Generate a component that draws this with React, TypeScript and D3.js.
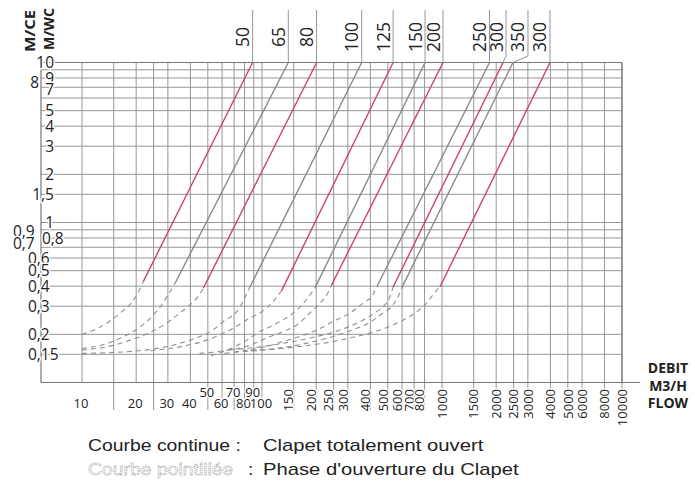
import React from "react";
import * as d3 from "d3";

// ---------- DATA ----------
// Valve sizes (DN) labelled above the curves (last label is "300" in the original)
const diameters = ["50", "65", "80", "100", "125", "150", "200", "250", "300", "350", "300"];
// Flow (m3/h) where each solid curve reaches 10 m head (top border)
const flowAtTop = [88.7, 140, 201, 358, 535, 805, 1013, 1837, 2183, 2479, 3981];
const headAtTop = 10;
// Lower end of each solid curve (valve fully open)
const flowAtBottom = [21.9, 32.9, 47.2, 85.7, 128.5, 196.8, 243.6, 433.5, 535, 597, 975];
const headAtBottom = [0.427, 0.417, 0.388, 0.395, 0.375, 0.39, 0.407, 0.395, 0.395, 0.39, 0.397];
// Dashed parts (valve opening phase), continuing from the lower end leftwards
const dashedFlows = [
  [19.7, 16.3, 12.6, 10],
  [30.0, 27.7, 24.4, 21, 16.9, 14.3, 10],
  [44.1, 39.8, 35, 29.5, 24.4, 18.5, 13.7, 10],
  [72.4, 60.8, 53.4, 39.8, 32, 22.9, 14.8, 10],
  [115, 99.6, 85.7, 66.4, 49.3, 35, 24],
  [173, 152.5, 130.6, 110.7, 93.3, 82.5, 66, 52],
  [229, 214, 184.7, 156, 130.6, 106, 85.7, 62, 45],
  [407, 373, 308, 247, 202, 162.5, 130.6, 106, 85.7, 62],
  [514, 481, 433, 350, 271, 202, 143, 97.4, 66],
  [570, 534, 470, 398, 308, 210, 143, 86],
  [889, 822, 726, 584, 452, 335, 247, 162.5, 106, 70],
];
const dashedHeads = [
  [0.337, 0.272, 0.222, 0.2],
  [0.352, 0.305, 0.258, 0.222, 0.193, 0.178, 0.163],
  [0.344, 0.305, 0.272, 0.235, 0.208, 0.184, 0.167, 0.16],
  [0.277, 0.24, 0.213, 0.184, 0.171, 0.16, 0.154, 0.152],
  [0.32, 0.277, 0.253, 0.213, 0.184, 0.167, 0.158],
  [0.32, 0.277, 0.246, 0.223, 0.203, 0.184, 0.162, 0.147],
  [0.352, 0.32, 0.272, 0.229, 0.208, 0.19, 0.171, 0.158, 0.152],
  [0.344, 0.32, 0.272, 0.24, 0.213, 0.194, 0.18, 0.168, 0.16, 0.152],
  [0.344, 0.305, 0.277, 0.24, 0.213, 0.194, 0.179, 0.167, 0.16],
  [0.344, 0.305, 0.272, 0.238, 0.21, 0.184, 0.168, 0.158],
  [0.352, 0.314, 0.277, 0.24, 0.213, 0.194, 0.18, 0.168, 0.16, 0.155],
];

// Grid and tick values
const xGridValues = [10, 15, 20, 25, 30, 40, 50, 60, 70, 80, 90, 100, 150, 200, 250, 300, 400, 500, 600, 700, 800, 1000, 1500, 2000, 2500, 3000, 4000, 5000, 6000, 8000, 10000];
const xFlatTicks = [10, 20, 30, 40, 50, 60, 70, 80, 90, 100];
const xRotatedTicks = [150, 200, 250, 300, 400, 500, 600, 700, 800, 1000, 1500, 2000, 2500, 3000, 4000, 5000, 6000, 8000, 10000];
const yGridValues = [10, 9, 8, 7, 6, 5, 4, 3, 2, 1.5, 1, 0.9, 0.8, 0.7, 0.6, 0.5, 0.4, 0.3, 0.2, 0.15];
const yTickValues = [10, 9, 8, 7, 5, 4, 3, 2, 1.5, 1, 0.9, 0.8, 0.7, 0.6, 0.5, 0.4, 0.3, 0.2, 0.15];
const yTickLabels = ["10", "9", "8", "7", "5", "4", "3", "2", "1,5", "1", "0,9", "0,8", "0,7", "0,6", "0,5", "0,4", "0,3", "0,2", "0,15"];

const yTitles = ["M/CE", "M/WC"];
const xTitles = ["DEBIT", "M3/H", "FLOW"];
const legendSolidLabel = "Courbe continue";
const legendSolidText = "Clapet totalement ouvert";
const legendDashLabel = "Courbe pointillée";
const legendDashText = "Phase d'ouverture du Clapet";

// ---------- LAYOUT / STYLE ----------
const W = 695;
const H = 486;
const RED = "#cc4468";
const GREYC = "#8a8a8a";
const GRID = "#979797";
const NUM_FONT = "'Open Sans', 'Noto Sans', sans-serif";
const LEG_FONT = "'Liberation Sans', Arial, sans-serif";

function yLabelLayout(lbl: string) {
  if (lbl === "8") return { anchor: "end", x: 39, dy: 4 };
  if (lbl === "9") return { anchor: "end", x: 54, dy: 9 };
  if (lbl === "7") return { anchor: "end", x: 54, dy: 2 };
  if (lbl === "0,9") return { anchor: "start", x: 13, dy: 2 };
  if (lbl === "0,7") return { anchor: "start", x: 13, dy: -4 };
  if (lbl === "0,8") return { anchor: "start", x: 42, dy: 0 };
  if (lbl.startsWith("0,")) return { anchor: "start", x: 28, dy: 0 };
  return { anchor: "end", x: 54, dy: 0 };
}

export default function App() {
  const x = d3.scaleLog().domain([10, 10000]).range([82, 622]);
  const y = d3.scaleLog().domain([0.1, 10]).range([382.5, 62.5]);
  const yTop = y(10);
  const yBot = y(0.1);
  const lineGen = d3
    .line<[number, number]>()
    .x((d) => x(d[0]))
    .y((d) => y(d[1]))
    .curve(d3.curveMonotoneX);

  const halo = { stroke: "#fff", strokeWidth: 3, paintOrder: "stroke" as const, strokeLinejoin: "round" as const };

  return (
    <svg
      width={W}
      height={H}
      viewBox={`0 0 ${W} ${H}`}
      style={{ position: "absolute", left: 0, top: 0, background: "#fff" }}
    >
      <rect x={0} y={0} width={W} height={H} fill="#fff" />
      {/* vertical grid */}
      {xGridValues.map((v) => (
        <line
          key={"vx" + v}
          x1={x(v)}
          x2={x(v)}
          y1={yTop}
          y2={v <= 40 && v % 10 === 0 ? yBot : 410}
          stroke={GRID}
          strokeWidth={1}
        />
      ))}
      {/* horizontal grid */}
      {yGridValues.map((v) => (
        <line key={"hy" + v} x1={41} x2={x(10000)} y1={y(v)} y2={y(v)} stroke={GRID} strokeWidth={1} />
      ))}
      {/* axes */}
      <line x1={41} x2={41} y1={yTop} y2={yBot} stroke="#777" strokeWidth={1.2} />
      <line x1={41} x2={640} y1={yBot} y2={yBot} stroke="#777" strokeWidth={1.2} />
      <line x1={41} x2={x(10000)} y1={yTop} y2={yTop} stroke="#777" strokeWidth={1.2} />
      <line x1={x(10000)} x2={x(10000)} y1={yTop} y2={yBot} stroke="#777" strokeWidth={1.2} />

      {/* curves */}
      {diameters.map((d, i) => {
        const col = i % 2 === 0 ? RED : GREYC;
        const solid = lineGen([
          [flowAtBottom[i], headAtBottom[i]],
          [flowAtTop[i], headAtTop],
        ]);
        const pts: [number, number][] = [[flowAtBottom[i], headAtBottom[i]] as [number, number]].concat(
          dashedFlows[i].map((q, j) => [q, dashedHeads[i][j]] as [number, number])
        );
        pts.sort((a, b) => a[0] - b[0]);
        return (
          <g key={"c" + i}>
            <path d={lineGen(pts) || ""} fill="none" stroke="#8f8f8f" strokeWidth={1.1} strokeDasharray="5 4" />
            <path d={solid || ""} fill="none" stroke={col} strokeWidth={1.4} />
          </g>
        );
      })}

      {/* DN labels at top */}
      {diameters.map((d, i) => {
        const xt = x(flowAtTop[i]);
        const nudge = i === 9 ? 15 : i === 8 ? 3 : 0;
        const lx = xt + nudge;
        return (
          <g key={"dn" + i}>
            {nudge === 0 ? (
              <line x1={lx} x2={lx} y1={10} y2={yTop} stroke={GRID} strokeWidth={1} />
            ) : (
              <polyline points={`${lx},10 ${lx},56 ${xt},${yTop}`} fill="none" stroke={GRID} strokeWidth={1} />
            )}
            <text
              transform={`translate(${lx - 3.5},37) rotate(-90)`}
              textAnchor="middle"
              fontFamily={NUM_FONT}
              fontSize={17.5}
              fill="#222"
            >
              {d}
            </text>
          </g>
        );
      })}

      {/* y tick labels */}
      {yTickValues.map((v, i) => {
        const lbl = yTickLabels[i];
        const L = yLabelLayout(lbl);
        return (
          <text
            key={"yl" + i}
            x={L.x}
            y={y(v) + L.dy}
            dy="0.36em"
            textAnchor={L.anchor as any}
            fontFamily={NUM_FONT}
            fontSize={15.5}
            fill="#222"
            {...halo}
          >
            {lbl}
          </text>
        );
      })}

      {/* x tick labels (horizontal) */}
      {xFlatTicks.map((v) => {
        const upper = v === 50 || v === 70 || v === 90;
        return (
          <text
            key={"xf" + v}
            x={x(v) - 1}
            y={upper ? 392.5 : 403.5}
            dy="0.36em"
            textAnchor="middle"
            fontFamily={NUM_FONT}
            fontSize={13}
            fill="#222"
            {...halo}
          >
            {v}
          </text>
        );
      })}
      {/* x tick labels (rotated) */}
      {xRotatedTicks.map((v) => {
        const shift = v < 1000 ? -5 : 0;
        const xb = x(v) + shift + 4.7;
        return (
          <text
            key={"xr" + v}
            transform={`translate(${xb},389) rotate(-90)`}
            textAnchor="end"
            fontFamily={NUM_FONT}
            fontSize={13}
            fill="#222"
            {...halo}
          >
            {v}
          </text>
        );
      })}

      {/* axis titles */}
      <text
        transform="translate(35,31) rotate(-90)"
        textAnchor="middle"
        fontFamily={NUM_FONT}
        fontWeight="bold"
        fontSize={15}
        textLength={42}
        lengthAdjust="spacingAndGlyphs"
        fill="#222"
      >
        {yTitles[0]}
      </text>
      <text
        transform="translate(54,29) rotate(-90)"
        textAnchor="middle"
        fontFamily={NUM_FONT}
        fontWeight="bold"
        fontSize={15}
        textLength={42}
        lengthAdjust="spacingAndGlyphs"
        fill="#222"
      >
        {yTitles[1]}
      </text>
      {xTitles.map((t, i) => (
        <text
          key={"xt" + i}
          x={668}
          y={373 + i * 17.5}
          textAnchor="middle"
          fontFamily={NUM_FONT}
          fontWeight="bold"
          fontSize={14}
          fill="#222"
          {...halo}
        >
          {t}
        </text>
      ))}

      {/* legend */}
      <g fontFamily={LEG_FONT} fontSize={17} fill="#222">
        <text transform="translate(88,451) scale(1.14,1)">{legendSolidLabel + " :"}</text>
        <text transform="translate(263,451) scale(1.19,1)">{legendSolidText}</text>
        <text
          transform="translate(88,475) scale(1.14,1)"
          fill="#fff"
          stroke="#a8a8a8"
          strokeWidth={0.8}
          strokeDasharray="1.2 0.9"
        >
          {legendDashLabel}
        </text>
        <text transform="translate(248,475) scale(1.14,1)">:</text>
        <text transform="translate(263,475) scale(1.19,1)">{legendDashText}</text>
      </g>
    </svg>
  );
}
